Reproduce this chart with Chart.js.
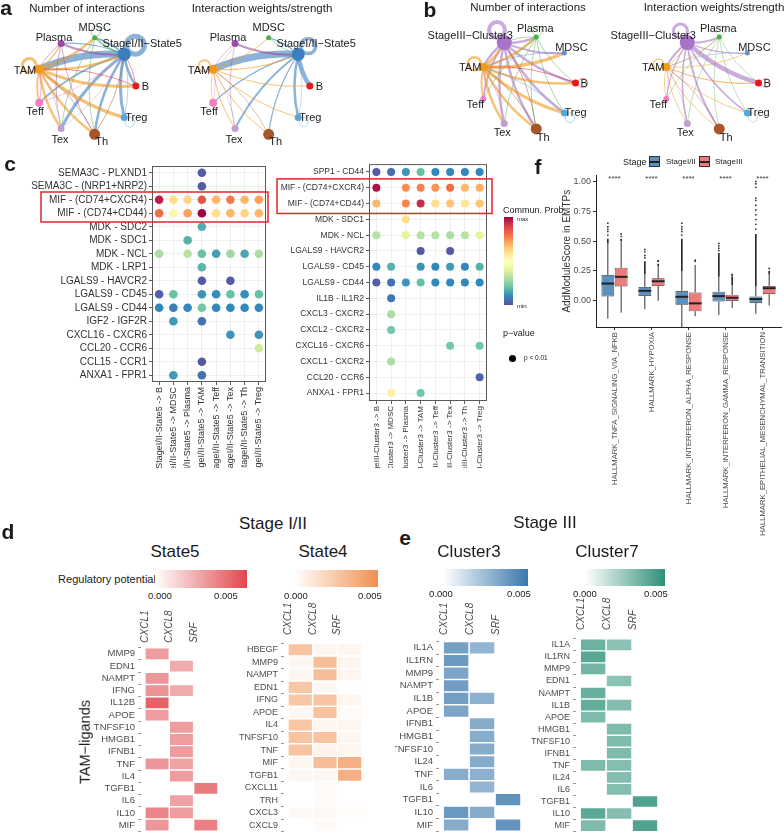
<!DOCTYPE html>
<html>
<head>
<meta charset="utf-8">
<title>TAM crosstalk figure</title>
<script src="https://cdn.jsdelivr.net/npm/chart.js@4.4.1/dist/chart.umd.min.js"></script>
<style>
  body { margin: 0; width: 784px; height: 840px; position: relative; overflow: hidden; background: #fff;
         font-family: "Liberation Sans", Arial, Helvetica, sans-serif; color: #1a1a1a; }
  canvas { position: absolute; }
  .t { position: absolute; white-space: nowrap; line-height: 1; }
  .bx { position: absolute; box-sizing: border-box; }
</style>
</head>
<body>
<canvas id="netA1" width="220" height="176" style="left:-24px;top:-2px"></canvas>
<canvas id="netA2" width="220" height="176" style="left:150px;top:-2px"></canvas>
<canvas id="netB1" width="220" height="176" style="left:418px;top:-5px"></canvas>
<canvas id="netB2" width="220" height="176" style="left:601px;top:-5px"></canvas>
<canvas id="dotL" width="272" height="310" style="left:0px;top:158px"></canvas>
<canvas id="dotR" width="222" height="311" style="left:272px;top:157px"></canvas>
<canvas id="boxF" width="224" height="375" style="left:560px;top:168px"></canvas>
<canvas id="hS5" width="150" height="235" style="left:70px;top:605px"></canvas>
<canvas id="hS4" width="150" height="240" style="left:215px;top:600px"></canvas>
<canvas id="hC3" width="130" height="242" style="left:395px;top:598px"></canvas>
<canvas id="hC7" width="140" height="250" style="left:525px;top:590px"></canvas>
<script>
Chart.defaults.font.family = '"Liberation Sans", Arial, Helvetica, sans-serif';
Chart.defaults.color = '#333';

// ---- a / b: cell-cell interaction circle plots ----
const netA_nodes = ["B", "StageI/II\u2212State5", "MDSC", "Plasma", "TAM", "Teff", "Tex", "Th", "Treg"];
const netA_colors = ["#E41A1C", "#3D7EBF", "#4DAF4A", "#984EA3", "#F29A1A", "#F07EC0", "#BFA0D0", "#A65628", "#56A8DC"];
const netA_sizes = [3.5, 6.5, 2.5, 3.5, 4.5, 4, 3.5, 5.5, 3.5];
// [source, target, width]
const netA_count = [[1,4,7],[1,1,5],[1,0,2.5],[1,8,3],[1,7,2.5],[1,6,3],[1,5,1.8],[1,2,2],[1,3,1.2],
  [4,0,3],[4,8,3.5],[4,7,2.5],[4,6,2.5],[4,2,2.5],[4,1,2.5],[4,4,3],[4,5,1.8],[4,3,1.5],
  [3,1,2.2],[3,6,0.8],[3,7,0.8],[3,4,0.8],[2,1,1.5],[2,7,0.8],[2,6,0.8],[2,2,0.8],
  [5,4,1.2],[5,1,0.8],[6,4,0.8],[6,1,0.8],[7,4,0.8],[7,1,0.8],[8,8,0.8],[8,1,0.8],[0,1,0.8],[0,4,0.8]];
const netA_weight = [[1,4,7],[1,0,4.5],[1,1,3.5],[1,8,2.5],[1,6,2],[1,5,1.2],[1,7,1.2],[1,2,1.2],[3,1,2],
  [4,0,1],[4,8,1],[4,7,1],[4,6,1],[4,2,1],[4,4,1.8],[4,5,0.8],[4,1,1.2],[4,3,0.6],
  [3,6,0.6],[3,4,0.6],[2,1,0.8],[5,4,0.6],[6,4,0.6],[7,4,0.6],[8,8,0.6],[8,1,0.6]];

const netB_nodes = ["B", "MDSC", "Plasma", "StageIII\u2212Cluster3", "TAM", "Teff", "Tex", "Th", "Treg"];
const netB_colors = ["#E41A1C", "#6A8FD0", "#4DAF4A", "#A874C8", "#F29A1A", "#F07EC0", "#BFA0D0", "#A65628", "#56A8DC"];
const netB_sizes = [3.5, 2.5, 2.5, 7.5, 4, 3, 3.5, 5.5, 3.5];
const netB_count = [[3,3,4],[3,2,2.5],[3,1,2],[3,0,2.5],[3,8,2.5],[3,7,2.5],[3,6,2.5],[3,5,1.8],[3,4,2.5],
  [4,1,3.5],[4,0,2.5],[4,8,3],[4,7,2.5],[4,6,2.5],[4,5,1.8],[4,2,2.5],[4,4,2.5],[4,3,2.5],
  [2,0,0.8],[2,7,0.8],[2,6,0.8],[2,5,0.8],[2,8,0.8],[2,2,0.8],[2,3,0.8],
  [0,0,0.8],[0,4,0.8],[1,4,0.8],[8,8,0.8],[8,4,0.8],[5,4,0.8],[6,4,0.8],[7,4,0.8],[7,3,0.8]];
const netB_weight = [[3,0,4.5],[3,3,3],[3,2,2],[3,7,2],[3,6,1.6],[3,4,2],[3,8,1.6],[3,1,1.2],[3,5,1.2],
  [4,0,1.2],[4,1,0.8],[4,8,0.8],[4,7,0.8],[4,6,0.8],[4,5,0.8],[4,2,0.8],[4,4,1.2],[4,3,0.8],
  [2,0,0.6],[2,7,0.6],[2,6,0.6],[2,5,0.6],[2,8,0.6],[2,2,0.6],
  [0,0,0.6],[1,4,0.6],[8,8,0.6],[5,4,0.6],[6,4,0.6],[7,4,0.6]];

// ---- c: ligand-receptor dot plots (values = relative commun. prob, 0 = min, 1 = max) ----
const cRowsL = ["SEMA3C - PLXND1", "SEMA3C - (NRP1+NRP2)", "MIF - (CD74+CXCR4)", "MIF - (CD74+CD44)", "MDK - SDC2",
  "MDK - SDC1", "MDK - NCL", "MDK - LRP1", "LGALS9 - HAVCR2", "LGALS9 - CD45", "LGALS9 - CD44", "IGF2 - IGF2R",
  "CXCL16 - CXCR6", "CCL20 - CCR6", "CCL15 - CCR1", "ANXA1 - FPR1"];
const cColsL = ["StageI/II-State5 -> B", "StageI/II-State5 -> MDSC", "StageI/II-State5 -> Plasma", "StageI/II-State5 -> TAM",
  "StageI/II-State5 -> Teff", "StageI/II-State5 -> Tex", "StageI/II-State5 -> Th", "StageI/II-State5 -> Treg"];
const cValsL = [
  [null, null, null, 0.02, null, null, null, null],
  [null, null, null, 0.02, null, null, null, null],
  [0.95, 0.6, 0.62, 0.85, 0.68, 0.78, 0.68, 0.72],
  [0.8, 0.45, 0.72, 1.0, 0.6, 0.68, 0.62, 0.68],
  [null, null, null, 0.16, null, null, null, null],
  [null, null, 0.17, null, null, null, null, null],
  [0.3, null, 0.32, 0.2, 0.14, 0.28, 0.15, 0.3],
  [null, null, null, 0.18, null, null, null, null],
  [null, null, null, 0.02, null, 0.02, null, null],
  [0.03, 0.2, null, 0.12, 0.11, 0.2, 0.11, 0.2],
  [0.1, 0.08, 0.1, 0.22, 0.1, 0.1, 0.1, 0.1],
  [null, 0.13, null, 0.06, null, null, null, null],
  [null, null, null, null, null, 0.12, null, 0.12],
  [null, null, null, null, null, null, null, 0.36],
  [null, null, null, 0.02, null, null, null, null],
  [null, 0.13, null, 0.06, null, null, null, null]
];
const cRowsR = ["SPP1 - CD44", "MIF - (CD74+CXCR4)", "MIF - (CD74+CD44)", "MDK - SDC1", "MDK - NCL", "LGALS9 - HAVCR2",
  "LGALS9 - CD45", "LGALS9 - CD44", "IL1B - IL1R2", "CXCL3 - CXCR2", "CXCL2 - CXCR2", "CXCL16 - CXCR6",
  "CXCL1 - CXCR2", "CCL20 - CCR6", "ANXA1 - FPR1"];
const cColsR = ["StageIII-Cluster3 -> B", "StageIII-Cluster3 -> MDSC", "StageIII-Cluster3 -> Plasma", "StageIII-Cluster3 -> TAM",
  "StageIII-Cluster3 -> Teff", "StageIII-Cluster3 -> Tex", "StageIII-Cluster3 -> Th", "StageIII-Cluster3 -> Treg"];
const cValsR = [
  [0.02, 0.05, 0.12, 0.2, 0.1, 0.1, 0.1, 0.1],
  [0.97, null, 0.75, 0.77, 0.74, 0.8, 0.68, 0.7],
  [0.68, null, 0.76, 0.93, 0.6, 0.66, 0.58, 0.65],
  [null, null, 0.6, null, null, null, null, null],
  [0.32, null, 0.4, 0.32, 0.32, 0.3, 0.32, 0.4],
  [null, null, null, 0.02, null, 0.02, null, null],
  [0.1, 0.17, null, 0.12, 0.1, 0.13, 0.1, 0.17],
  [0.03, 0.06, 0.12, 0.2, 0.1, 0.1, 0.1, 0.1],
  [null, 0.07, null, null, null, null, null, null],
  [null, 0.3, null, null, null, null, null, null],
  [null, 0.22, null, null, null, null, null, null],
  [null, null, null, null, null, 0.22, null, 0.22],
  [null, 0.3, null, null, null, null, null, null],
  [null, null, null, null, null, null, null, 0.03],
  [null, 0.55, null, 0.22, null, null, null, null]
];
const SPECTRAL = ["#5E4FA2", "#3288BD", "#66C2A5", "#ABDDA4", "#E6F598", "#FFFFBF", "#FEE08B", "#FDAE61", "#F46D43", "#D53E4F", "#9E0142"];

// ---- f: AddModuleScore boxplots ----
const fCats = ["HALLMARK_TNFA_SIGNALING_VIA_NFKB", "HALLMARK_HYPOXIA", "HALLMARK_INTERFERON_ALPHA_RESPONSE",
  "HALLMARK_INTERFERON_GAMMA_RESPONSE", "HALLMARK_EPITHELIAL_MESENCHYMAL_TRANSITION"];
const fEarlyQ1 = [0.036, 0.04, -0.033, -0.006, -0.02];
const fEarlyMed = [0.144, 0.083, 0.033, 0.039, 0.014];
const fEarlyQ3 = [0.215, 0.116, 0.083, 0.075, 0.036];
const fEarlyLo = [-0.15, -0.07, -0.22, -0.12, -0.11];
const fEarlyHi = [0.48, 0.225, 0.25, 0.2, 0.12];
const fEarlyDense = [0.52, 0.33, 0.52, 0.4, 0.56];
const fEarlyOut = [[0.55, 0.58, 0.6, 0.62, 0.65], [0.36, 0.38, 0.41, 0.43], [0.55, 0.58, 0.6, 0.62, 0.65],
  [0.42, 0.44, 0.46, 0.48], [0.6, 0.64, 0.68, 0.72, 0.76, 0.8, 0.84, 0.86, 0.95, 0.98, 1.0]];
const fLateQ1 = [0.12, 0.124, -0.088, -0.003, 0.055];
const fLateMed = [0.2, 0.163, -0.022, 0.025, 0.105];
const fLateQ3 = [0.276, 0.188, 0.069, 0.05, 0.124];
const fLateLo = [-0.1, 0.0, -0.13, -0.06, -0.04];
const fLateHi = [0.5, 0.29, 0.3, 0.13, 0.22];
const fLateDense = [0.52, 0.31, 0.3, 0.2, 0.25];
const fLateOut = [[0.54, 0.56], [0.33, 0.335], [0.33, 0.34], [0.21, 0.22], [0.27]];
const fSig = ["****", "****", "****", "****", "****"];

// ---- d / e: ligand regulatory potential heatmaps ----
const hTargets = ["CXCL1", "CXCL8", "SRF"];
const hS5Rows = ["MMP9", "EDN1", "NAMPT", "IFNG", "IL12B", "APOE", "TNFSF10", "HMGB1", "IFNB1", "TNF", "IL4", "TGFB1", "IL6", "IL10", "MIF"];
const hS5Cxcl1 = [0.0035, null, 0.0037, 0.0038, 0.0055, 0.0035, null, null, null, 0.0037, null, null, null, 0.0043, 0.0037];
const hS5Cxcl8 = [null, 0.003, null, 0.003, null, null, 0.0035, 0.0035, 0.0035, 0.0033, 0.0035, null, 0.0033, 0.0035, null];
const hS5Srf = [null, null, null, null, null, null, null, null, null, null, null, 0.0047, null, null, 0.0045];
const hS4Rows = ["HBEGF", "MMP9", "NAMPT", "EDN1", "IFNG", "APOE", "IL4", "TNFSF10", "TNF", "MIF", "TGFB1", "CXCL11", "TRH", "CXCL3", "CXCL9"];
const hS4Cxcl1 = [0.0035, 0.0005, 0.0005, 0.0033, 0.0033, 0.0004, 0.0033, 0.0035, 0.0035, 0.0005, 0.0005, null, null, 0.0004, null];
const hS4Cxcl8 = [0.0006, 0.0038, 0.0038, 0.0004, 0.0035, 0.0035, 0.0006, 0.0035, 0.0007, 0.0038, 0.0005, 0.0003, 0.0003, 0.0004, 0.0003];
const hS4Srf = [0.0006, 0.0006, 0.0006, null, 0.0006, 0.0003, 0.0006, 0.0005, 0.0006, 0.0046, 0.0046, null, null, 0.0002, null];
const hC3Rows = ["IL1A", "IL1RN", "MMP9", "NAMPT", "IL1B", "APOE", "IFNB1", "HMGB1", "TNFSF10", "IL24", "TNF", "IL6", "TGFB1", "IL10", "MIF"];
const hC3Cxcl1 = [0.0042, 0.0045, 0.004, 0.0043, 0.0043, 0.004, null, null, null, null, 0.0036, null, null, 0.0045, 0.0037];
const hC3Cxcl8 = [0.0033, null, null, null, 0.0035, null, 0.0037, 0.0037, 0.0037, 0.0037, 0.0035, 0.0033, null, 0.0037, null];
const hC3Srf = [null, null, null, null, null, null, null, null, null, null, null, null, 0.0048, null, 0.0047];
const hC7Rows = ["IL1A", "IL1RN", "MMP9", "EDN1", "NAMPT", "IL1B", "APOE", "HMGB1", "TNFSF10", "IFNB1", "TNF", "IL24", "IL6", "TGFB1", "IL10", "MIF"];
const hC7Cxcl1 = [0.0042, 0.0048, 0.004, null, 0.0043, 0.0045, 0.0037, null, null, null, 0.0037, null, null, null, 0.0047, 0.0037];
const hC7Cxcl8 = [0.0033, null, null, 0.0033, null, 0.0035, null, 0.0037, 0.0037, 0.0037, 0.0035, 0.0035, 0.0035, null, 0.0035, null];
const hC7Srf = [null, null, null, null, null, null, null, null, null, null, null, null, null, 0.005, null, 0.005];

// ---------- helpers ----------
function rgbOf(h) { return [1, 3, 5].map(i => parseInt(h.slice(i, i + 2), 16)); }
function rgba(h, a) { const c = rgbOf(h); return `rgba(${c[0]},${c[1]},${c[2]},${a})`; }
function tint(h, t) {
  t = Math.max(0, Math.min(1, t));
  const c = rgbOf(h).map(v => Math.round(255 + (v - 255) * t));
  return `rgb(${c.join(',')})`;
}
function spectral(v) {
  const n = SPECTRAL.length - 1, p = Math.max(0, Math.min(1, v)) * n;
  const i = Math.min(n - 1, Math.floor(p)), f = p - i;
  const a = rgbOf(SPECTRAL[i]), b = rgbOf(SPECTRAL[i + 1]);
  return `rgb(${a.map((c, k) => Math.round(c + (b[k] - c) * f)).join(',')})`;
}
function txt(s, x, y, size, o = {}) {
  const d = document.createElement('div');
  d.className = 't';
  d.textContent = s;
  d.style.fontSize = size + 'px';
  d.style.left = x + 'px';
  d.style.top = y + 'px';
  if (o.bold) d.style.fontWeight = 'bold';
  if (o.color) d.style.color = o.color;
  const tx = o.align === 'left' ? '0' : o.align === 'right' ? '-100%' : '-50%';
  d.style.transform = `translate(${tx},-50%)` + (o.rot ? ` rotate(${o.rot}deg)` : '');
  document.body.appendChild(d);
}
function box(x, y, w, h, css) {
  const d = document.createElement('div');
  d.className = 'bx';
  Object.assign(d.style, { left: x + 'px', top: y + 'px', width: w + 'px', height: h + 'px' }, css);
  document.body.appendChild(d);
}
const noInteract = { responsive: false, animation: false, events: [] };

// ---------- network charts ----------
const labelOffA = [[6, 1, 'left'], [18, -10, 'center'], [0, -10, 'center'], [-7, -6, 'center'], [-3, 1.5, 'right'],
  [-4, 9, 'center'], [-1, 11, 'center'], [7, 8, 'center'], [1, 0, 'left']];
const labelOffB = [[5, 1, 'left'], [7, -5, 'center'], [-1, -8, 'center'], [-34, -7, 'center'], [-2, 1, 'right'],
  [-8, 6, 'center'], [-2, 10, 'center'], [7, 9, 'center'], [0, 0, 'left']];

function netChart(id, nodes, colors, sizes, edges, labelOff, R) {
  const cv = document.getElementById(id);
  const n = nodes.length;
  const pts = nodes.map((_, i) => ({ x: Math.cos(i * 2 * Math.PI / n), y: Math.sin(i * 2 * Math.PI / n) }));
  const edgePlugin = {
    id: 'edges',
    beforeDatasetsDraw(chart) {
      const { ctx } = chart, sx = chart.scales.x, sy = chart.scales.y;
      ctx.save();
      ctx.lineCap = 'round';
      edges.forEach(([s, t, w]) => {
        const a = pts[s], b = pts[t];
        const x1 = sx.getPixelForValue(a.x), y1 = sy.getPixelForValue(a.y);
        ctx.strokeStyle = rgba(colors[s], 0.6);
        ctx.lineWidth = w;
        ctx.beginPath();
        if (s === t) {
          const ang = Math.atan2(a.y, a.x), r = 4 + w;
          const d = r + sizes[s] - 1;
          ctx.arc(x1 + Math.cos(ang) * d, y1 - Math.sin(ang) * d, r, 0, 2 * Math.PI);
        } else {
          const x2 = sx.getPixelForValue(b.x), y2 = sy.getPixelForValue(b.y);
          const dx = x2 - x1, dy = y2 - y1, k = 0.12;
          ctx.moveTo(x1, y1);
          ctx.quadraticCurveTo((x1 + x2) / 2 - dy * k, (y1 + y2) / 2 + dx * k, x2, y2);
        }
        ctx.stroke();
      });
      ctx.restore();
    },
    afterDatasetsDraw(chart) {
      const { ctx } = chart, sx = chart.scales.x, sy = chart.scales.y;
      ctx.save();
      ctx.font = '11px "Liberation Sans", Arial, sans-serif';
      ctx.fillStyle = '#1a1a1a';
      ctx.textBaseline = 'middle';
      nodes.forEach((name, i) => {
        const [dx, dy, al] = labelOff[i];
        ctx.textAlign = al;
        ctx.fillText(name, sx.getPixelForValue(pts[i].x) + dx, sy.getPixelForValue(pts[i].y) + dy);
      });
      ctx.restore();
    }
  };
  new Chart(cv, {
    type: 'scatter',
    data: { datasets: [{ data: pts, pointRadius: sizes, pointHoverRadius: sizes, backgroundColor: colors, borderWidth: 0 }] },
    options: {
      ...noInteract,
      layout: { padding: 0 },
      plugins: { legend: { display: false }, tooltip: { enabled: false } },
      scales: {
        x: { display: false, min: -cv.width / 2 / R, max: cv.width / 2 / R },
        y: { display: false, min: -cv.height / 2 / R, max: cv.height / 2 / R }
      }
    },
    plugins: [edgePlugin]
  });
}
netChart('netA1', netA_nodes, netA_colors, netA_sizes, netA_count, labelOffA, 53);
netChart('netA2', netA_nodes, netA_colors, netA_sizes, netA_weight, labelOffA, 53);
netChart('netB1', netB_nodes, netB_colors, netB_sizes, netB_count, labelOffB, 51);
netChart('netB2', netB_nodes, netB_colors, netB_sizes, netB_weight, labelOffB, 51);

// ---------- dot plots ----------
function dotChart(id, rows, cols, vals, o) {
  const pts = [], cl = [];
  vals.forEach((r, ri) => r.forEach((v, ci) => {
    if (v != null) { pts.push({ x: cols[ci], y: rows[ri] }); cl.push(spectral(v)); }
  }));
  const frame = {
    id: 'frame',
    afterDraw(chart) {
      const { ctx, chartArea: ca } = chart, sy = chart.scales.y;
      ctx.save();
      ctx.strokeStyle = '#5a5a5a';
      ctx.lineWidth = 1;
      ctx.strokeRect(ca.left + 0.5, ca.top + 0.5, ca.width - 1, ca.height - 1);
      const band = sy.getPixelForValue(1) - sy.getPixelForValue(0);
      const y0 = sy.getPixelForValue(o.red[0]) - band / 2 - 1, y1 = sy.getPixelForValue(o.red[1]) + band / 2 + 2;
      ctx.strokeStyle = '#E3262A';
      ctx.lineWidth = 1.5;
      ctx.strokeRect(o.redX[0], y0, o.redX[1] - o.redX[0], y1 - y0);
      ctx.restore();
    }
  };
  const axis = (labels, size, fit) => ({
    type: 'category', labels, offset: true,
    grid: { color: '#EBEBEB', tickColor: '#333', tickLength: 3, lineWidth: 0.8 },
    border: { display: false },
    ticks: { autoSkip: false, color: '#333', font: { size }, padding: 2 },
    afterFit: fit
  });
  const x = axis(cols, o.xFont, a => { a.height = o.xH; });
  x.ticks.minRotation = 90; x.ticks.maxRotation = 90;
  new Chart(document.getElementById(id), {
    type: 'scatter',
    data: { datasets: [{ data: pts, backgroundColor: cl, pointRadius: o.r, pointHoverRadius: o.r, borderWidth: 0 }] },
    options: {
      ...noInteract,
      layout: { padding: { top: o.padT, right: o.padR, left: 0, bottom: 0 } },
      plugins: { legend: { display: false }, tooltip: { enabled: false } },
      scales: { x, y: axis(rows, o.font, a => { a.width = o.yW; }) }
    },
    plugins: [frame]
  });
}
dotChart('dotL', cRowsL, cColsL, cValsL, { font: 10, xFont: 9, r: 4.3, xH: 86, yW: 152, padT: 5, padR: 5, red: [2, 3], redX: [41, 268] });
dotChart('dotR', cRowsR, cColsR, cValsR, { font: 8.5, xFont: 8, r: 4, xH: 67, yW: 97, padT: 5, padR: 7, red: [1, 2], redX: [5, 220] });

// ---------- boxplot ----------
const fBlue = '#5E90BE', fRed = '#EE7B7B';
const boxStats = [
  { q1: fEarlyQ1, med: fEarlyMed, q3: fEarlyQ3, lo: fEarlyLo, hi: fEarlyHi, dense: fEarlyDense, out: fEarlyOut },
  { q1: fLateQ1, med: fLateMed, q3: fLateQ3, lo: fLateLo, hi: fLateHi, dense: fLateDense, out: fLateOut }
];
const boxPlugin = {
  id: 'boxes',
  beforeDatasetsDraw(chart) {
    const { ctx } = chart, sy = chart.scales.y;
    ctx.save();
    ctx.strokeStyle = '#333';
    ctx.lineWidth = 1;
    boxStats.forEach((st, d) => chart.getDatasetMeta(d).data.forEach((el, i) => {
      ctx.beginPath();
      ctx.moveTo(el.x, sy.getPixelForValue(st.q3[i])); ctx.lineTo(el.x, sy.getPixelForValue(st.hi[i]));
      ctx.moveTo(el.x, sy.getPixelForValue(st.q1[i])); ctx.lineTo(el.x, sy.getPixelForValue(st.lo[i]));
      ctx.stroke();
    }));
    ctx.restore();
  },
  afterDatasetsDraw(chart) {
    const { ctx } = chart, sy = chart.scales.y, sx = chart.scales.x;
    ctx.save();
    ctx.fillStyle = '#333';
    ctx.strokeStyle = '#222';
    boxStats.forEach((st, d) => chart.getDatasetMeta(d).data.forEach((el, i) => {
      ctx.lineWidth = 2;
      ctx.beginPath();
      const ym = sy.getPixelForValue(st.med[i]);
      ctx.moveTo(el.x - el.width / 2, ym); ctx.lineTo(el.x + el.width / 2, ym);
      ctx.stroke();
      ctx.lineWidth = 1.6;
      ctx.beginPath();
      ctx.moveTo(el.x, sy.getPixelForValue(st.hi[i])); ctx.lineTo(el.x, sy.getPixelForValue(st.dense[i]));
      ctx.stroke();
      st.out[i].forEach(v => {
        ctx.beginPath();
        ctx.arc(el.x, sy.getPixelForValue(v), 0.9, 0, 2 * Math.PI);
        ctx.fill();
      });
    }));
    ctx.font = '8px "Liberation Sans", Arial, sans-serif';
    ctx.textAlign = 'center';
    ctx.textBaseline = 'middle';
    fSig.forEach((s, i) => ctx.fillText(s, sx.getPixelForValue(i), sy.getPixelForValue(1.02)));
    ctx.restore();
  }
};
new Chart(document.getElementById('boxF'), {
  type: 'bar',
  data: {
    labels: fCats,
    datasets: [
      { label: 'StageI/II', data: fCats.map((_, i) => [fEarlyQ1[i], fEarlyQ3[i]]), backgroundColor: fBlue },
      { label: 'StageIII', data: fCats.map((_, i) => [fLateQ1[i], fLateQ3[i]]), backgroundColor: fRed }
    ].map(ds => ({ ...ds, borderColor: '#333', borderWidth: 0.8, borderSkipped: false, categoryPercentage: 0.72, barPercentage: 0.96 }))
  },
  options: {
    ...noInteract,
    layout: { padding: { top: 5, right: 3, left: 0, bottom: 0 } },
    plugins: { legend: { display: false }, tooltip: { enabled: false } },
    scales: {
      x: {
        grid: { display: true, drawOnChartArea: false, offset: false, tickLength: 3, color: '#333' },
        border: { display: true, color: '#222', width: 1 },
        ticks: { autoSkip: false, minRotation: 90, maxRotation: 90, color: '#4d4d4d', font: { size: 7.7 }, padding: 2 },
        afterFit: a => { a.height = 216; }
      },
      y: {
        min: -0.22, max: 1.05,
        grid: { display: true, drawOnChartArea: false, tickLength: 3, color: '#333' },
        border: { display: true, color: '#222', width: 1 },
        ticks: { stepSize: 0.25, includeBounds: false, color: '#4d4d4d', font: { size: 9 }, padding: 2, callback: v => v.toFixed(2) },
        title: { display: true, text: 'AddModuleScore in EMTPs', color: '#333', font: { size: 10 }, padding: { top: 1, bottom: 0 } },
        afterFit: a => { a.width = 36; }
      }
    }
  },
  plugins: [boxPlugin]
});

// ---------- heatmaps ----------
function heatChart(id, rows, colVals, maxHex, vmax, o) {
  new Chart(document.getElementById(id), {
    type: 'bar',
    data: {
      labels: rows,
      datasets: colVals.map((vals, c) => ({
        data: vals.map(v => v == null ? null : [c + 0.03, c + 0.97]),
        backgroundColor: vals.map(v => v == null ? 'rgba(0,0,0,0)' : tint(maxHex, v / vmax)),
        borderWidth: 0, grouped: false, barPercentage: 0.88, categoryPercentage: 1
      }))
    },
    options: {
      ...noInteract,
      indexAxis: 'y',
      layout: { padding: { top: 0, right: o.padR, bottom: o.padB, left: 0 } },
      plugins: { legend: { display: false }, tooltip: { enabled: false } },
      scales: {
        x: {
          type: 'linear', position: 'top', min: -0.16, max: 3,
          afterBuildTicks: a => { a.ticks = hTargets.map((_, i) => ({ value: i + 0.5 })); },
          afterFit: a => { a.height = o.xH; },
          grid: { display: false, drawTicks: false, tickLength: 0 }, border: { display: false },
          ticks: { autoSkip: false, minRotation: 90, maxRotation: 90, padding: o.xPad, color: '#4d4d4d',
                   font: { size: 10, style: 'italic' }, callback: v => hTargets[Math.round(v - 0.5)] }
        },
        y: {
          afterFit: a => { a.width = o.yW; },
          grid: { display: true, drawOnChartArea: false, tickLength: 3, color: '#999' },
          border: { display: false },
          ticks: { autoSkip: false, color: '#4d4d4d', font: { size: o.font }, padding: 3 }
        }
      }
    }
  });
}
const cS5 = '#E0474C', cS4 = '#F0904F', cC3 = '#3A78AC', cC7 = '#2E9079';
heatChart('hS5', hS5Rows, [hS5Cxcl1, hS5Cxcl8, hS5Srf], cS5, 0.0065, { xH: 42.7, yW: 71, padR: 2, padB: 3.7, xPad: 5, font: 9.5 });
heatChart('hS4', hS4Rows, [hS4Cxcl1, hS4Cxcl8, hS4Srf], cS4, 0.0065, { xH: 43.5, yW: 69, padR: 3, padB: 0.5, xPad: 8.5, font: 9 });
heatChart('hC3', hC3Rows, [hC3Cxcl1, hC3Cxcl8, hC3Srf], cC3, 0.006, { xH: 43.5, yW: 44, padR: 4, padB: 2.5, xPad: 6.5, font: 9.5 });
heatChart('hC7', hC7Rows, [hC7Cxcl1, hC7Cxcl8, hC7Srf], cC7, 0.006, { xH: 48.8, yW: 51, padR: 7, padB: 1.8, xPad: 8.8, font: 9 });

// ---------- text, legends, colour bars ----------
txt('a', 6, 7, 21, { bold: true });
txt('Number of interactions', 87, 9, 11.5);
txt('Interaction weights/strength', 262, 9, 11.5);
txt('b', 430, 9, 21, { bold: true });
txt('Number of interactions', 528, 8, 11.5);
txt('Interaction weights/strength', 714, 8, 11.5);
txt('c', 10, 163, 21, { bold: true });
txt('f', 538, 166, 21, { bold: true });
txt('d', 8, 531, 21, { bold: true });
txt('e', 405, 537, 21, { bold: true });

// c legend
txt('Commun. Prob.', 503, 210, 9, { align: 'left' });
box(504, 217, 9, 88, { background: `linear-gradient(to top, ${SPECTRAL.join(',')})` });
txt('max', 517, 219, 6, { align: 'left' });
txt('min', 517, 306, 6, { align: 'left' });
txt('p\u2212value', 503, 333, 9, { align: 'left' });
box(509, 355, 7, 7, { background: '#000', borderRadius: '50%' });
txt('p < 0.01', 524, 358, 6.5, { align: 'left' });

// f legend
txt('Stage', 623, 162, 9, { align: 'left' });
box(649, 156, 11, 11, { background: fBlue, border: '1px solid #333' });
box(649, 161, 11, 1.5, { background: '#222' });
txt('StageI/II', 666, 162, 8, { align: 'left' });
box(699, 156, 11, 11, { background: fRed, border: '1px solid #333' });
box(699, 161, 11, 1.5, { background: '#222' });
txt('StageIII', 715, 162, 8, { align: 'left' });

// d / e titles and colour bars
txt('Stage I/II', 273, 523, 17);
txt('State5', 175, 551, 17);
txt('State4', 323, 551, 17);
txt('Stage III', 545, 522, 17);
txt('Cluster3', 469, 551, 17);
txt('Cluster7', 607, 551, 17);
txt('Regulatory potential', 107, 579, 11);
txt('TAM\u2212ligands', 85, 742, 14.5, { rot: -90 });
box(155, 570, 92, 18, { background: `linear-gradient(to right, #fff, ${cS5})` });
txt('0.000', 160, 596, 9.5); txt('0.005', 226, 596, 9.5);
box(295, 570, 83, 17, { background: `linear-gradient(to right, #fff, ${cS4})` });
txt('0.000', 296, 596, 9.5); txt('0.005', 370, 596, 9.5);
box(443, 569, 85, 17, { background: `linear-gradient(to right, #fff, ${cC3})` });
txt('0.000', 441, 594, 9.5); txt('0.005', 519, 594, 9.5);
box(585, 569, 80, 17, { background: `linear-gradient(to right, #fff, ${cC7})` });
txt('0.000', 585, 594, 9.5); txt('0.005', 656, 594, 9.5);
</script>
</body>
</html>
